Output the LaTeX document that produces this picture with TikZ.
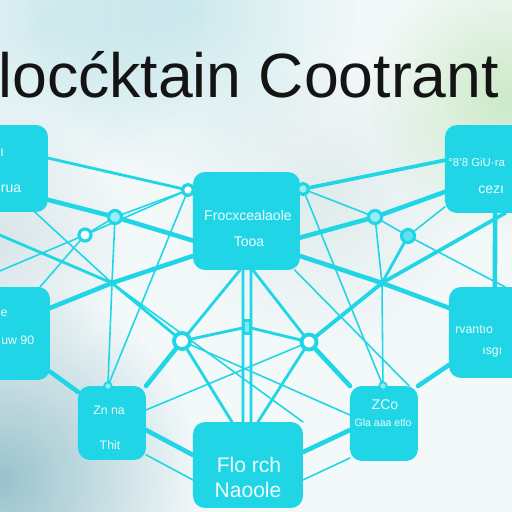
\documentclass[tikz,border=0pt]{standalone}
\usepackage{fontspec}
\setmainfont{Liberation Sans}
\usetikzlibrary{calc}
\definecolor{cy}{RGB}{32,214,230}
\definecolor{bg}{RGB}{243,248,249}
\definecolor{ink}{RGB}{20,20,20}
\definecolor{txt}{RGB}{236,252,253}
\begin{document}
\begin{tikzpicture}[x=0.02cm,y=-0.02cm,
  box/.style={fill=cy, rounded corners=0.24cm, inner sep=0pt, outer sep=0pt, anchor=north west},
  lnA/.style={draw=cy, line width=2.6pt, line cap=round},
  lnB/.style={draw=cy, line width=1.6pt, line cap=round},
  lnC/.style={draw=cy, line width=0.9pt, line cap=round},
  ringw/.style={circle, draw=cy, line width=1.8pt, fill=white, inner sep=0pt, minimum size=0.24cm},
  ringf/.style={circle, draw=cy, line width=1.8pt, fill=cy!45!white, inner sep=0pt, minimum size=0.24cm},
  dotj/.style={circle, fill=cy, inner sep=0pt, minimum size=0.14cm},
  lbl/.style={text=txt, inner sep=0pt, font=\fontsize{8}{9}\selectfont},
  blob/.style={blend mode=multiply, outer color=white},
]
\useasboundingbox (0,0) rectangle (512,512);
\clip (0,0) rectangle (512,512);
% background
\fill[bg] (0,0) rectangle (512,512);
\shade[blob, inner color={rgb,255:red,222;green,242;blue,245}] (40,20) circle[radius=170];
\shade[blob, inner color={rgb,255:red,215;green,240;blue,243}] (190,10) circle[radius=170];
\shade[blob, inner color={rgb,255:red,215;green,240;blue,205}] (505,100) circle[radius=140];
\shade[blob, inner color={rgb,255:red,236;green,242;blue,242}] (320,200) circle[radius=150];
\shade[blob, inner color={rgb,255:red,228;green,236;blue,238}] (0,240) circle[radius=130];
\shade[blob, inner color={rgb,255:red,160;green,200;blue,210}] (0,480) circle[radius=200];

% boxes
\node[box, minimum width=1.40cm, minimum height=1.74cm] (tl) at (-22,125) {};
\node[box, minimum width=2.14cm, minimum height=1.96cm] (tc) at (193,172) {};
\node[box, minimum width=1.70cm, minimum height=1.76cm] (tr) at (445,125) {};
\node[box, minimum width=1.40cm, minimum height=1.86cm] (ml) at (-20,287) {};
\node[box, minimum width=1.70cm, minimum height=1.82cm] (mr) at (449,287) {};
\node[box, minimum width=1.36cm, minimum height=1.48cm] (bl) at (78,386) {};
\node[box, minimum width=2.20cm, minimum height=1.72cm] (bc) at (193,422) {};
\node[box, minimum width=1.36cm, minimum height=1.50cm] (br) at (350,386) {};

% junction points
\coordinate (J1) at (115,217);
\coordinate (J2) at (85,235);
\coordinate (J3) at (188,190);
\coordinate (J4) at (303,189);
\coordinate (J5) at (375,217);
\coordinate (J6) at (408,236);
\coordinate (J7) at (182,341);
\coordinate (J8) at (309,342);
\coordinate (J9) at (112,283);
\coordinate (J10) at (382,283);
\coordinate (JC) at (247,327);
\coordinate (e1) at (-5,233);
\coordinate (e2) at (-5,273);

% border points
\coordinate (tlE1) at ($(tl.north east)!0.38!(tl.south east)$);
\coordinate (tlE2) at ($(tl.north east)!0.86!(tl.south east)$);
\coordinate (tlS) at ($(tl.south west)!0.81!(tl.south east)$);
\coordinate (tcW1) at ($(tc.north west)!0.70!(tc.south west)$);
\coordinate (tcW2) at ($(tc.north west)!0.857!(tc.south west)$);
\coordinate (tcE1) at ($(tc.north east)!0.67!(tc.south east)$);
\coordinate (tcE2) at ($(tc.north east)!0.857!(tc.south east)$);
\coordinate (tcS1) at ($(tc.south west)!0.44!(tc.south east)$);
\coordinate (tcS2) at ($(tc.south west)!0.467!(tc.south east)$);
\coordinate (tcS3) at ($(tc.south west)!0.542!(tc.south east)$);
\coordinate (tcS4) at ($(tc.south west)!0.56!(tc.south east)$);
\coordinate (tcS5) at ($(tc.south west)!0.95!(tc.south east)$);
\coordinate (trW1) at ($(tr.north west)!0.40!(tr.south west)$);
\coordinate (trW2) at ($(tr.north west)!0.76!(tr.south west)$);
\coordinate (trW3) at ($(tr.north west)!0.93!(tr.south west)$);
\coordinate (trS1) at ($(tr.south west)!0.59!(tr.south east)$);
\coordinate (trS2) at ($(tr.south west)!0.71!(tr.south east)$);
\coordinate (mlE1) at ($(ml.north east)!0.226!(ml.south east)$);
\coordinate (mlE2) at ($(ml.north east)!0.91!(ml.south east)$);
\coordinate (mlN) at ($(ml.north west)!0.857!(ml.north east)$);
\coordinate (mrW1) at ($(mr.north west)!0.23!(mr.south west)$);
\coordinate (mrW2) at ($(mr.north west)!0.857!(mr.south west)$);
\coordinate (mrN1) at ($(mr.north west)!0.54!(mr.north east)$);
\coordinate (mrN2) at ($(mr.north west)!0.66!(mr.north east)$);
\coordinate (blE1) at ($(bl.north east)!0.595!(bl.south east)$);
\coordinate (blE2) at ($(bl.north east)!0.93!(bl.south east)$);
\coordinate (blE3) at ($(bl.north east)!0.324!(bl.south east)$);
\coordinate (blW) at ($(bl.north west)!0.08!(bl.south west)$);
\coordinate (blN) at ($(bl.north west)!0.44!(bl.north east)$);
\coordinate (bcW1) at ($(bc.north west)!0.384!(bc.south west)$);
\coordinate (bcW2) at ($(bc.north west)!0.674!(bc.south west)$);
\coordinate (bcE1) at ($(bc.north east)!0.35!(bc.south east)$);
\coordinate (bcE2) at ($(bc.north east)!0.674!(bc.south east)$);
\coordinate (bcN1) at ($(bc.north west)!0.355!(bc.north east)$);
\coordinate (bcN2) at ($(bc.north west)!0.455!(bc.north east)$);
\coordinate (bcN3) at ($(bc.north west)!0.527!(bc.north east)$);
\coordinate (bcN4) at ($(bc.north west)!0.59!(bc.north east)$);
\coordinate (brW1) at ($(br.north west)!0.587!(br.south west)$);
\coordinate (brW2) at ($(br.north west)!0.96!(br.south west)$);
\coordinate (brW3) at ($(br.north west)!0.387!(br.south west)$);
\coordinate (brN1) at ($(br.north west)!0.485!(br.north east)$);
\coordinate (brN2) at ($(br.north west)!0.87!(br.north east)$);

% thin connectors
\draw[lnC] (J1) -- (J3);
\draw[lnC] (J2) -- (J1);
\draw[lnC] (J2) -- (J3);
\draw[lnC] (e2) -- (J2);
\draw[lnC] (J2) -- (mlN);
\draw[lnC] (tlS) -- (J9);
\draw[lnC] (J1) -- (J9);
\draw[lnC] (J3) -- (blN);
\draw[lnC] (J9) -- (blN);
\draw[lnC] (blE3) -- (J8);
\draw[lnC] (brW3) -- (J7);
\draw[lnC] (blE2) -- (bcW2);
\draw[lnC] (brW2) -- (bcE2);
\draw[lnC] (J4) -- (J5) -- (J6) -- (mrN2);
\draw[lnC] (J5) -- (J10);
\draw[lnC] (J6) -- (trW3);
\draw[lnC] (J4) -- (brN1);
\draw[lnC] (J10) -- (brN1);
\draw[lnC] (tcS5) -- (brN2);
\draw[lnC] (J9) -- (bc.north east);
% medium connectors
\draw[lnB] (tlE1) -- (J3);
\draw[lnB] (e1) -- (J9) -- (J7);
\draw[lnB] (J7) -- (JC) -- (J8);
\draw[lnB] (tcS2) -- (bcN2);
\draw[lnB] (tcS3) -- (bcN3);
\draw[lnB] (tcS1) -- (J7);
\draw[lnB] (tcS4) -- (J8);
\draw[lnB] (J7) -- (bcN1);
\draw[lnB] (J8) -- (bcN4);
\draw[lnB] (J6) -- (J10);
% thick connectors
\draw[lnA] (tlE2) -- (J1) -- (tcW1);
\draw[lnA] (mlE1) -- (J9) -- (tcW2);
\draw[lnA] (tcE1) -- (J5) -- (trW2);
\draw[lnA] (tcE2) -- (J10) -- (mrW1);
\draw[lnA, line width=2.1pt] (J4) -- (trW1);
\draw[lnA] (J7) -- (bl.north east);
\draw[lnA] (J8) -- (br.north west);
\draw[lnA] (blE1) -- (bcW1);
\draw[lnA] (brW1) -- (bcE1);
\draw[lnA] (mlE2) -- (blW);
\draw[lnA] (br.north east) -- (mrW2);
\draw[lnA, line width=2.2pt] (J8) -- (J10);
\draw[lnA] (trS1) -- (mrN1);
\draw[lnA, line width=2.1pt] (J10) -- (trS2);

% junction markers
\node[ringf, minimum size=0.26cm] (n1) at (J1) {};
\node[ringw, minimum size=0.24cm] (n2) at (J2) {};
\node[ringw, minimum size=0.22cm] (n3) at (J3) {};
\node[ringf, minimum size=0.22cm] (n4) at (J4) {};
\node[ringf, minimum size=0.26cm] (n5) at (J5) {};
\node[ringf, minimum size=0.26cm, fill=cy!70!white] (n6) at (J6) {};
\node[ringw, minimum size=0.32cm, line width=2.2pt] (n7) at (J7) {};
\node[ringw, minimum size=0.30cm, line width=2.2pt] (n8) at (J8) {};
\node[dotj] (n9) at (J9) {};
\node[dotj] (n10) at (J10) {};
\node[rectangle, draw=cy, line width=1.4pt, fill=cy!55!white, minimum width=0.14cm, minimum height=0.26cm, inner sep=0pt] (nC) at (JC) {};
\node[circle, draw=cy, line width=1pt, fill=cy!50!white, minimum size=0.15cm, inner sep=0pt] (nbl) at (blN) {};
\node[circle, draw=cy, line width=1pt, fill=cy!50!white, minimum size=0.15cm, inner sep=0pt] (nbr) at (brN1) {};

% box texts
\node[lbl] (tlA) at (2,153) {ı};
\node[lbl] (tlB) at (11,189) {rua};
\node[lbl] (tcA) at (248,215) {Frocxcealaole};
\node[lbl] (tcB) at (249,242) {Tooa};
\node[lbl, anchor=west, font=\fontsize{6.5}{8}\selectfont] (trA) at (448,162) {°8'8 GiU·ra};
\node[lbl, anchor=west] (trB) at (478,190) {cezı};
\node[lbl, font=\fontsize{7}{8}\selectfont] (mlA) at (4,313) {e};
\node[lbl, anchor=west, font=\fontsize{7}{8}\selectfont] (mlB) at (1,340) {uw 90};
\node[lbl, anchor=west, font=\fontsize{7}{8}\selectfont] (mrA) at (455,330) {rvantıo};
\node[lbl, anchor=west, font=\fontsize{7}{8}\selectfont] (mrB) at (482,352) {ısgı};
\node[lbl, font=\fontsize{7}{8}\selectfont] (blA) at (109,410) {Zn na};
\node[lbl, font=\fontsize{7}{8}\selectfont] (blB) at (110,445) {Thit};
\node[lbl, font=\fontsize{12}{14}\selectfont] (bcA) at (249,465) {Flo rch};
\node[lbl, font=\fontsize{12}{14}\selectfont] (bcB) at (248,490) {Naoole};
\node[lbl] (brA) at (385,405) {ZCo};
\node[lbl, font=\fontsize{6}{7}\selectfont] (brB) at (383,423) {Gla aaa etlo};

% title
\node[anchor=base west, inner sep=0pt, text=ink, font=\fontsize{35.6}{40}\selectfont] (title) at (-2,97) {locćktain Cootrant};
\end{tikzpicture}
\end{document}
